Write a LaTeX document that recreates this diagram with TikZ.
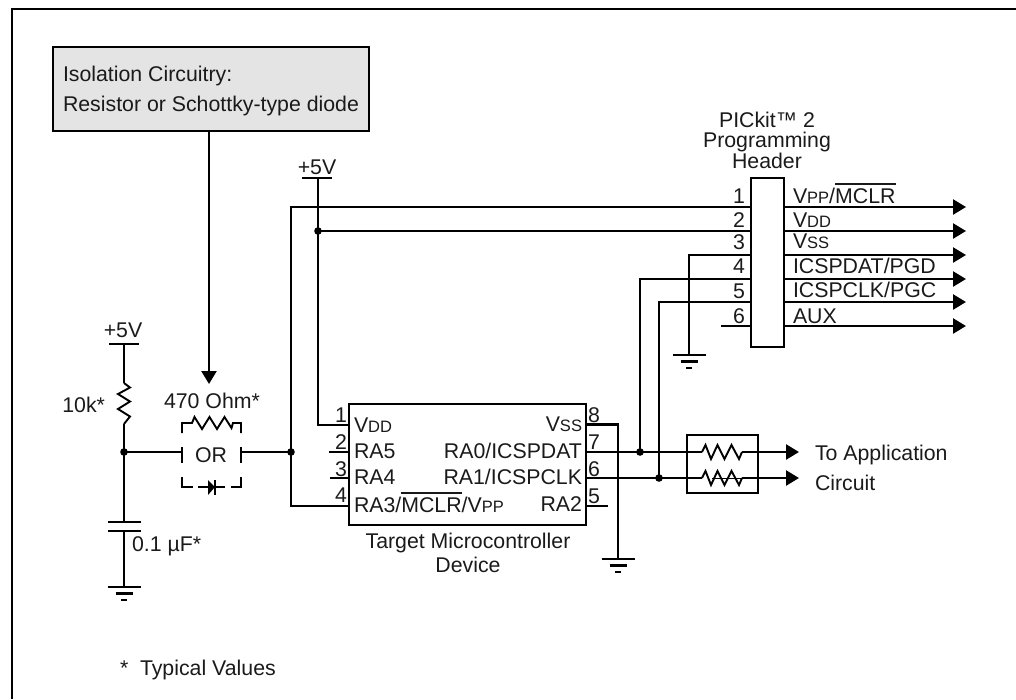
\documentclass[tikz,border=0pt]{standalone}
\usepackage{fontspec}
\setmainfont{Liberation Sans}
\usetikzlibrary{arrows.meta}
\newcommand{\sm}[1]{{\fontsize{16.5}{18}\selectfont #1}}
\newcommand{\ovl}[1]{\leavevmode\vbox{\hrule height 1.8pt \kern 3.2pt\hbox{#1}}}
\definecolor{boxgray}{HTML}{E4E4E4}
\definecolor{inkc}{HTML}{1A1A1A}
\tikzset{
  lbl/.style={inner sep=0pt,outer sep=0pt,text=inkc,font=\fontsize{21.3}{24}\selectfont},
  tw/.style={lbl,anchor=base west},
  te/.style={lbl,anchor=base east},
  tc/.style={lbl,anchor=base},
  wire/.style={line width=2.5pt,draw=black},
  thinw/.style={line width=1.9pt,draw=black},
  arrowed/.style={wire,-{Triangle[length=13pt,width=15pt]}},
  blockbox/.style={draw=black,line width=2.5pt,inner sep=0pt,outer sep=0pt},
  dotj/.style={fill=black},
  gndsym/.pic={
    \draw[wire] (-16.5,0) -- (16.5,0);
    \draw[wire] (-8.5,6.5) -- (8.5,6.5);
    \draw[wire] (-3,13) -- (3,13);
  }
}
\begin{document}
\begin{tikzpicture}[x=1pt,y=-1pt,line join=miter]
\useasboundingbox (0,0) rectangle (1016,699);
% frame
\coordinate (fbl) at (12,699); \coordinate (ftl) at (12,9); \coordinate (ftr) at (1016,9);
\draw[wire] (fbl) -- (ftl) -- (ftr);

% isolation box
\node[blockbox,fill=boxgray,minimum width=316pt,minimum height=84pt] (iso) at (211,89) {};
\node[tw] (iso1) at (63,81) {Isolation Circuitry:};
\node[tw] (iso2) at (63,111) {Resistor or Schottky-type diode};
\coordinate (isotip) at (209,384);
\draw[arrowed] (iso.south -| isotip) -- (isotip);

% chip
\node[blockbox,minimum width=237pt,minimum height=121pt] (chip) at (467.5,464.5) {};
\node[tc] (chipa) at (468,548) {Target Microcontroller};
\node[tc] (chipb) at (468,572) {Device};
\node[tw] (cv) at (354,432) {V\sm{DD}};
\node[tw] (c5) at (354,458) {RA5};
\node[tw] (c4) at (354,484) {RA4};
\node[tw] (c3) at (354,512) {RA3/\ovl{MCLR}/V\sm{PP}};
\node[te] (cs) at (582,431) {V\sm{SS}};
\node[te] (c0) at (582,458) {RA0/ICSPDAT};
\node[te] (c1) at (582,484) {RA1/ICSPCLK};
\node[te] (c2) at (582,511) {RA2};
\node[tc] (n1) at (341,422) {1};
\node[tc] (n2) at (341,449) {2};
\node[tc] (n3) at (341,476) {3};
\node[tc] (n4) at (341,502) {4};
\node[tc] (n8) at (594,422) {8};
\node[tc] (n7) at (594,449) {7};
\node[tc] (n6) at (594,476) {6};
\node[tc] (n5) at (594,503) {5};
\coordinate (cl1) at (349,425); \coordinate (cl2) at (349,452);
\coordinate (cl3) at (349,478); \coordinate (cl4) at (349,506);
\coordinate (cr8) at (586,424.5); \coordinate (cr7) at (586,452);
\coordinate (cr6) at (586,478); \coordinate (cr5) at (586,506);
\coordinate (s2) at (329,452); \coordinate (s3) at (330,478); \coordinate (s5) at (608,506);
\draw[wire] (s2) -- (cl2);
\draw[wire] (s3) -- (cl3);
\draw[wire] (cr5) -- (s5);
\coordinate (gchip) at (618,559);
\draw[wire] (cr8) -| (gchip);
\pic at (gchip) {gndsym};

% header
\node[blockbox,minimum width=33pt,minimum height=169pt] (hdr) at (767.5,262.5) {};
\node[tc] (ht1) at (767,127) {PICkit™ 2};
\node[tc] (ht2) at (767,147) {Programming};
\node[tc] (ht3) at (767,168) {Header};
\node[tc] (h1) at (739,203) {1};
\node[tc] (h2) at (739,227) {2};
\node[tc] (h3) at (739,249) {3};
\node[tc] (h4) at (739,273) {4};
\node[tc] (h5) at (739,298) {5};
\node[tc] (h6) at (739,323) {6};
\node[tw] (hs1) at (793,203) {V\sm{PP}/\ovl{MCLR}};
\node[tw] (hs2) at (793,227) {V\sm{DD}};
\node[tw] (hs3) at (793,248) {V\sm{SS}};
\node[tw] (hs4) at (793,273) {ICSPDAT/PGD};
\node[tw] (hs5) at (793,297) {ICSPCLK/PGC};
\node[tw] (hs6) at (793,323) {AUX};
\foreach \i/\yy in {1/207,2/231,3/255,4/279,5/302,6/326}{
  \coordinate (hl\i) at (751,\yy);
  \coordinate (hr\i) at (784,\yy);
  \coordinate (ha\i) at (966,\yy);
  \draw[arrowed] (hr\i) -- (ha\i);
}
\coordinate (s6) at (721,326);
\draw[wire] (s6) -- (hl6);

% upper +5V and junctions
\node[tc] (v5a) at (317,174) {+5V};
\coordinate (bara1) at (302,178); \coordinate (bara2) at (332,178); \coordinate (bara) at (318,178);
\draw[wire] (bara1) -- (bara2);
\coordinate (jv) at (318,231);
\coordinate (bus) at (291,207);
\coordinate (jbus) at (291,452);
\coordinate (bus4) at (291,506);
\draw[wire] (bara) -- (jv);
\draw[wire] (jv) -- (318,425) -- (cl1);
\draw[wire] (jv) -- (hl2);
\draw[wire] (hl1) -- (bus) -- (bus4) -- (cl4);
\fill[dotj] (jv) circle (3.8pt);
\fill[dotj] (jbus) circle (3.8pt);

% header to ground and chip
\coordinate (ghdr) at (689,355);
\draw[wire] (hl3) -| (ghdr);
\pic at (ghdr) {gndsym};
\coordinate (j7) at (640,452);
\coordinate (j6) at (659,478);
\draw[wire] (hl4) -| (j7);
\draw[wire] (hl5) -| (j6);
\fill[dotj] (j7) circle (3.8pt);
\fill[dotj] (j6) circle (3.8pt);

% resistor pack
\node[blockbox,minimum width=71pt,minimum height=58pt] (rp) at (722.5,464) {};
\coordinate (ra1) at (702,452); \coordinate (ra2) at (742,452); \coordinate (at1) at (799,452);
\coordinate (rb1) at (702,478); \coordinate (rb2) at (742,478); \coordinate (at2) at (799,478);
\draw[wire] (cr7) -- (ra1);
\draw[wire] (cr6) -- (rb1);
\draw[arrowed] (ra2) -- (at1);
\draw[arrowed] (rb2) -- (at2);
\draw[thinw] (ra1) -- (705.5,445) -- (711,459) -- (717.5,445) -- (724.5,459) -- (731.5,445) -- (739,459) -- (ra2);
\draw[thinw] (rb1) -- (705.5,471) -- (711,485) -- (717.5,471) -- (724.5,485) -- (731.5,471) -- (739,485) -- (rb2);
\draw[line width=1pt] (712,478) -- (rb2);
\node[tw] (ta) at (815,460) {To Application};
\node[tw] (tb) at (815,490) {Circuit};

% left branch
\node[tc] (v5b) at (123,337) {+5V};
\coordinate (barb1) at (109,344); \coordinate (barb2) at (139,344); \coordinate (barb) at (124,344);
\draw[wire] (barb1) -- (barb2);
\coordinate (r1t) at (124,383); \coordinate (r1b) at (124,424);
\coordinate (jl) at (124,452);
\coordinate (capt) at (124,522); \coordinate (capb) at (124,531);
\coordinate (gleft) at (124,587);
\draw[wire] (barb) -- (r1t);
\draw[thinw] (r1t) -- (130,387.5) -- (118,394) -- (130,401.5) -- (118,409) -- (130,416.5) -- (r1b);
\draw[wire] (r1b) -- (capt);
\draw[wire] (108,522) -- (141,522);
\draw[wire] (108,531) -- (141,531);
\draw[wire] (capb) -- (gleft);
\pic at (gleft) {gndsym};
\fill[dotj] (jl) circle (3.8pt);
\node[te] (r10k) at (105,412) {10k*};
\node[tw] (cap) at (132,551) {0.1 µF*};

% OR group
\node[tc] (r470) at (212,408) {470 Ohm*};
\node[tc] (orx) at (211,462) {OR};
\coordinate (orl) at (182,452); \coordinate (orr) at (241,452);
\draw[wire] (jl) -- (orl);
\draw[wire] (orr) -- (jbus);
\draw[wire] (182,447) -- (182,463);
\draw[wire] (241,447) -- (241,463);
\draw[thinw] (182,433) -- (182,423) -- (192,423) -- (194.5,417) -- (202,429) -- (209.5,417) -- (217,429) -- (224.5,417) -- (231.5,428) -- (233,423) -- (241,423) -- (241,433);
\draw[wire] (182,477) -- (182,487) -- (193,487);
\draw[wire] (231,487) -- (241,487) -- (241,477);
\draw[wire] (198,487) -- (225,487);
\fill (208,480) -- (215,487) -- (208,495) -- cycle;
\draw[wire] (215,480) -- (215,495);

\node[tw] (star) at (120,675) {*};
\node[tw] (typ) at (140,675) {Typical Values};
\end{tikzpicture}
\end{document}
